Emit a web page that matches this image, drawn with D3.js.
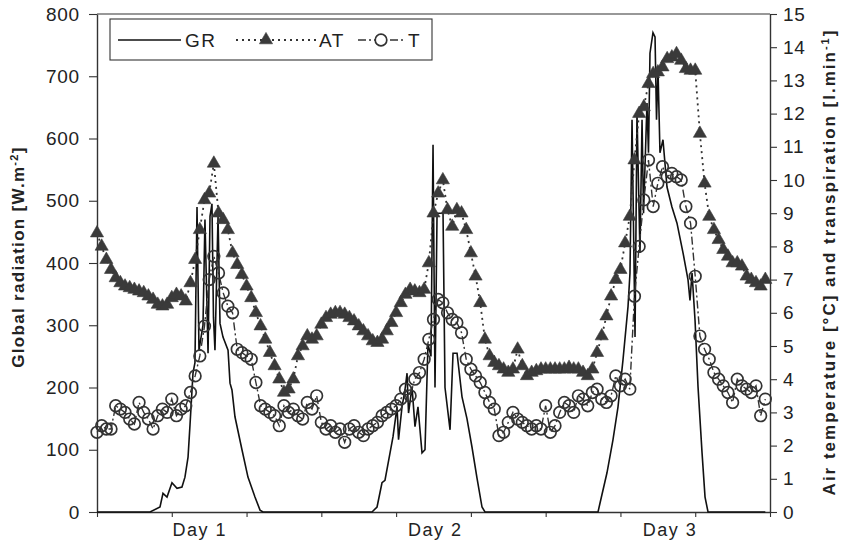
<!DOCTYPE html>
<html>
<head>
<meta charset="utf-8">
<script src="https://cdn.jsdelivr.net/npm/d3@7"></script>
<style>
  body { margin: 0; background: #fff; }
  svg { font-family: Arial, "Liberation Sans", sans-serif; }
</style>
</head>
<body>
<svg id="chart" width="848" height="543"></svg>
<script>
// half-hourly readings, hour 0 .. 71.5
var step = 0.5;

var airTemp = [
  8.4, 8.0, 7.6, 7.3, 7.05, 6.9, 6.8, 6.75, 6.7, 6.65,
  6.6, 6.5, 6.4, 6.25, 6.2, 6.25, 6.45, 6.55, 6.5, 6.35,
  6.9, 7.6, 8.5, 9.4, 9.6, 10.5, 9.0, 8.8, 8.5, 7.8,
  7.45, 7.15, 6.8, 6.45, 6.0, 5.6, 5.2, 4.8, 4.4, 4.0,
  3.6, 3.7, 4.0, 4.7, 5.0, 5.3, 5.2, 5.3, 5.65, 5.85,
  5.95, 6.0, 6.0, 5.95, 5.85, 5.75, 5.6, 5.45, 5.3, 5.15,
  5.1, 5.2, 5.45, 5.7, 6.0, 6.3, 6.55, 6.7, 6.65, 6.6,
  6.7, 7.5, 9.0, 9.6, 10.0, 9.1, 8.6, 9.1, 9.0, 8.5,
  7.8, 7.1, 6.3, 5.2, 4.7, 4.5, 4.4, 4.3, 4.2, 4.3,
  4.9, 4.4, 4.1, 4.2, 4.25, 4.3, 4.3, 4.3, 4.3, 4.3,
  4.3, 4.35, 4.3, 4.3, 4.2, 4.1, 4.3, 4.8, 5.3, 5.9,
  6.5, 7.0, 7.3, 8.1, 8.9, 10.6, 12.0, 12.2, 12.9, 13.2,
  13.25, 13.4, 13.65, 13.7, 13.8, 13.6, 13.35, 13.3, 13.3, 11.4,
  9.9, 8.9, 8.5, 8.2, 7.9, 7.7, 7.5, 7.5, 7.4, 7.1,
  7.0, 6.9, 6.8, 7.0
];

var transp = [
  2.4, 2.6, 2.5, 2.5, 3.2, 3.1, 3.0, 2.8, 2.65, 3.3,
  3.0, 2.8, 2.5, 2.9, 3.1, 3.0, 3.4, 2.9, 3.1, 3.2,
  3.6, 4.1, 4.7, 5.6, 7.0, 7.7, 7.2, 6.6, 6.2, 6.0,
  4.9, 4.8, 4.7, 4.6, 3.9, 3.2, 3.1, 3.0, 2.9, 2.6,
  3.2, 3.0, 3.1, 2.9, 2.8, 3.3, 3.1, 3.5, 2.7, 2.5,
  2.6, 2.4, 2.5, 2.1, 2.5, 2.6, 2.4, 2.3, 2.5, 2.6,
  2.7, 2.9, 3.0, 3.1, 3.2, 3.4, 3.7, 3.5, 4.0, 4.2,
  4.6, 5.2, 5.8, 6.4, 6.3, 6.0, 5.8, 5.7, 5.4, 4.6,
  4.3, 4.1, 3.9, 3.6, 3.3, 3.1, 2.3, 2.4, 2.7, 3.0,
  2.8, 2.7, 2.6, 2.5, 2.6, 2.5, 3.2, 2.4, 2.6, 3.0,
  3.3, 3.2, 3.0, 3.5, 3.4, 3.2, 3.6, 3.7, 3.4, 3.3,
  3.5, 4.1, 3.8, 4.0, 3.7, 6.5, 8.0, 9.4, 10.6, 9.2,
  9.9, 10.4, 10.1, 10.2, 10.1, 10.0, 9.2, 8.7, 7.1, 5.3,
  4.9, 4.6, 4.2, 4.0, 3.8, 3.6, 3.3, 4.0, 3.8, 3.7,
  3.6, 3.8, 2.9, 3.4
];

// global radiation, irregular readings (hour, W/m2)
var grHours = [
  0, 5.67, 6.74, 7.06, 7.49, 8.02, 8.56, 9.09, 9.41, 9.74,
  9.95, 10.27, 10.48, 10.7, 10.91, 11.34, 11.55, 11.88, 12.09, 12.3,
  12.46, 12.62, 12.95, 13.16, 13.48, 14.02, 14.23, 14.44, 14.76, 15.51,
  16.15, 16.9, 17.44, 17.76,
  29.42, 29.96, 30.49, 30.81, 31.35, 31.67, 32.1, 32.26, 32.63, 32.95,
  33.17, 33.33, 33.7, 34.02, 34.34, 34.77, 35.09, 35.41, 35.73, 35.95,
  36.16, 36.38, 37.02, 37.23, 37.77, 38.09, 38.52, 39.05, 39.58, 40.12,
  40.65, 41.19, 41.51,
  53.6, 53.81, 54.56, 55.2, 55.74, 56.27, 56.81, 57.02, 57.24, 57.56,
  57.77, 58.09, 58.31, 58.47, 58.84, 59.0, 59.16, 59.48, 59.7, 59.86,
  60.02, 60.23, 60.55, 60.98, 61.51, 62.05, 62.7, 63.23, 63.44, 63.66,
  63.98, 64.3, 64.73, 65.05, 65.37, 71.5
];
var grValues = [
  0, 0, 8, 30, 24, 47, 38, 40, 56, 88,
  140, 223, 240, 490, 260, 300, 470, 255, 475, 495,
  313, 260, 475, 303, 281, 260, 207, 196, 153, 100,
  56, 24, 3, 0,
  0, 8, 47, 51, 95, 121, 169, 116, 169, 196,
  223, 159, 201, 137, 169, 95, 100, 270, 250, 590,
  200, 480, 480, 200, 132, 255, 255, 185, 150, 104,
  55, 8, 0,
  0, 14, 63, 116, 169, 244, 330, 384, 630, 281,
  641, 416, 630, 480, 657, 577, 737, 770, 763, 630,
  710, 577, 598, 522, 490, 464, 416, 373, 340, 384,
  308, 201, 95, 24, 0, 0
];

var dayLabels = ["Day 1", "Day 2", "Day 3"];
var dayLabelHours = [11, 36.2, 61.3];
var xTickHours = [0, 8, 16, 24, 32, 40, 48, 56, 64, 72];

var svg = d3.select("#chart");
var plotLeft = 97, plotRight = 770, plotTop = 14, plotBottom = 512;
var ink = "#333";

var x = d3.scaleLinear().domain([0, 72]).range([plotLeft, plotRight]);
var yL = d3.scaleLinear().domain([0, 800]).range([plotBottom, plotTop]);
var yR = d3.scaleLinear().domain([0, 15]).range([plotBottom, plotTop]);

var atData = airTemp.map(function(v, i) { return {h: i * step, v: v}; });
var tData = transp.map(function(v, i) { return {h: i * step, v: v}; });
var grData = grHours.map(function(h, i) { return {h: h, v: grValues[i]}; });

/* frame top */
svg.append("line")
  .attr("x1", plotLeft).attr("x2", plotRight).attr("y1", plotTop).attr("y2", plotTop)
  .attr("stroke", ink).attr("stroke-width", 1.2);

/* axes */
var gL = svg.append("g").attr("transform", "translate(" + plotLeft + ",0)")
  .call(d3.axisLeft(yL).tickValues(d3.range(0, 801, 100)).tickSize(8).tickSizeOuter(0).tickPadding(9));
var gR = svg.append("g").attr("transform", "translate(" + plotRight + ",0)")
  .call(d3.axisRight(yR).tickValues(d3.range(0, 16, 1)).tickSize(7).tickSizeOuter(0).tickPadding(6));
var gX = svg.append("g").attr("transform", "translate(0," + plotBottom + ")")
  .call(d3.axisBottom(x).tickValues(xTickHours).tickSize(5).tickSizeOuter(0).tickFormat(""));

[gL, gR, gX].forEach(function(g) {
  g.select(".domain").attr("stroke", ink).attr("stroke-width", 1.4);
  g.selectAll(".tick line").attr("stroke", ink).attr("stroke-width", 1.1);
  g.selectAll(".tick text").attr("fill", "#222")
    .style("font-size", "19px").style("letter-spacing", "0.8px")
    .style("font-family", "Arial, 'Liberation Sans', sans-serif");
});

svg.selectAll(".daylabel")
  .data(dayLabels)
  .enter().append("text")
  .attr("x", function(d, i) { return x(dayLabelHours[i]); })
  .attr("y", 536)
  .attr("text-anchor", "middle")
  .style("font-size", "18px").style("letter-spacing", "1.5px")
  .attr("fill", "#222")
  .text(function(d) { return d; });

/* axis titles */
var tl = svg.append("text")
  .attr("transform", "translate(24,257) rotate(-90)")
  .attr("text-anchor", "middle")
  .style("font-size", "17px").style("font-weight", "bold").style("letter-spacing", "1.3px")
  .attr("fill", "#222");
tl.append("tspan").text("Global radiation [W.m");
tl.append("tspan").attr("baseline-shift", "super").style("font-size", "11px").text("-2");
tl.append("tspan").text("]");

var tr = svg.append("text")
  .attr("transform", "translate(835,262) rotate(-90)")
  .attr("text-anchor", "middle")
  .style("font-size", "17px").style("font-weight", "bold").style("letter-spacing", "2px")
  .attr("fill", "#222");
tr.append("tspan").text("Air temperature [°C] and transpiration [l.min");
tr.append("tspan").attr("baseline-shift", "super").style("font-size", "11px").text("-1");
tr.append("tspan").text("]");

/* series */
var grLine = d3.line().x(function(d) { return x(d.h); }).y(function(d) { return yL(d.v); });
var rLine = d3.line().x(function(d) { return x(d.h); }).y(function(d) { return yR(d.v); });

svg.append("path").datum(grData)
  .attr("d", grLine).attr("fill", "none")
  .attr("stroke", "#111").attr("stroke-width", 1.6);

svg.append("path").datum(atData)
  .attr("d", rLine).attr("fill", "none")
  .attr("stroke", ink).attr("stroke-width", 1.8)
  .attr("stroke-dasharray", "2,4");

svg.append("path").datum(tData)
  .attr("d", rLine).attr("fill", "none")
  .attr("stroke", ink).attr("stroke-width", 1.4)
  .attr("stroke-dasharray", "8,3,2,3");

var tri = d3.symbol().type(d3.symbolTriangle).size(75);

svg.selectAll(".at")
  .data(atData)
  .enter().append("path")
  .attr("d", tri)
  .attr("transform", function(d) { return "translate(" + x(d.h) + "," + yR(d.v) + ")"; })
  .attr("fill", "#3a3a3a").attr("stroke", "#3a3a3a").attr("stroke-width", 0.6);

svg.selectAll(".tp")
  .data(tData)
  .enter().append("circle")
  .attr("cx", function(d) { return x(d.h); })
  .attr("cy", function(d) { return yR(d.v); })
  .attr("r", 5.8)
  .attr("fill", "none").attr("stroke", ink).attr("stroke-width", 1.7);

/* legend */
var lg = svg.append("g");
lg.append("rect")
  .attr("x", 110).attr("y", 19).attr("width", 322).attr("height", 41)
  .attr("fill", "#fff").attr("stroke", ink).attr("stroke-width", 1.1);

lg.append("line").attr("x1", 118).attr("x2", 181).attr("y1", 40).attr("y2", 40)
  .attr("stroke", "#111").attr("stroke-width", 1.6);
lg.append("text").attr("x", 185).attr("y", 47).style("font-size", "19px").style("letter-spacing", "1.5px")
  .attr("fill", "#222").text("GR");

lg.append("line").attr("x1", 236).attr("x2", 316).attr("y1", 40).attr("y2", 40)
  .attr("stroke", ink).attr("stroke-width", 1.8).attr("stroke-dasharray", "2,4");
lg.append("path").attr("d", tri).attr("transform", "translate(266,40)")
  .attr("fill", "#3a3a3a").attr("stroke", "#3a3a3a").attr("stroke-width", 0.6);
lg.append("text").attr("x", 319).attr("y", 47).style("font-size", "19px").style("letter-spacing", "1.5px")
  .attr("fill", "#222").text("AT");

lg.append("line").attr("x1", 358).attr("x2", 404).attr("y1", 40).attr("y2", 40)
  .attr("stroke", ink).attr("stroke-width", 1.4).attr("stroke-dasharray", "8,3,2,3");
lg.append("circle").attr("cx", 381).attr("cy", 40).attr("r", 5.8)
  .attr("fill", "#fff").attr("stroke", ink).attr("stroke-width", 1.7);
lg.append("text").attr("x", 408).attr("y", 47).style("font-size", "19px").style("letter-spacing", "1.5px")
  .attr("fill", "#222").text("T");
</script>
</body>
</html>
